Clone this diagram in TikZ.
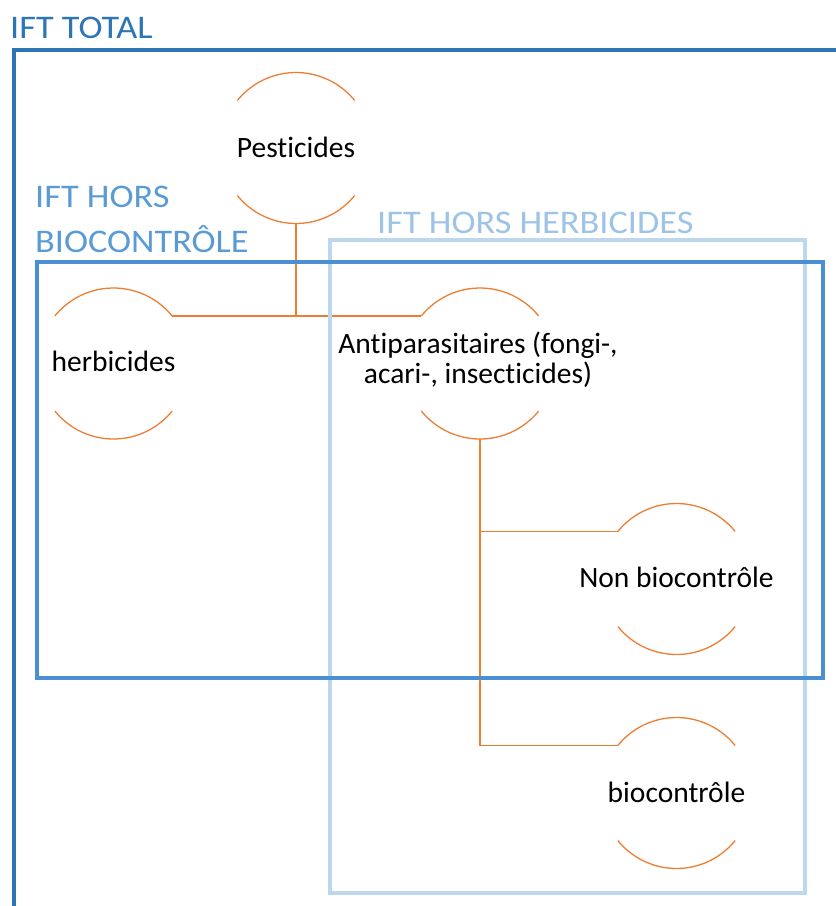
\documentclass[tikz,border=0pt]{standalone}
\usepackage{fontspec}
\setmainfont[Ligatures=NoCommon]{Carlito}
\newfontfamily\lightfont[FakeStretch=1.1,Ligatures=NoCommon]{Carlito}
\definecolor{totalblue}{HTML}{2E75B6}
\definecolor{midblue}{HTML}{4A8FD1}
\definecolor{midtext}{HTML}{5B9BD5}
\definecolor{lightbox}{HTML}{BDD7EE}
\definecolor{lighttext}{HTML}{9DC3E6}
\definecolor{arcorange}{HTML}{ED7D31}
\tikzset{
  ring/.style={circle, minimum size=151pt, inner sep=0pt, outer sep=0pt},
  lbl/.style={font=\fontsize{29.5}{30}\selectfont, text=black, align=center, inner sep=0pt},
  arcline/.style={draw=arcorange, line width=1.3pt},
  conn/.style={draw=arcorange, line width=1.3pt},
  grp/.style={font=\lightfont\fontsize{33}{45}\selectfont, anchor=base west, inner sep=0pt, align=left},
}
\begin{document}
\begin{tikzpicture}[x=1pt,y=1pt]
\useasboundingbox (0,0) rectangle (836,-906);
\clip (0,0) rectangle (836,-906);

% circles (invisible nodes)
\node[ring] (pest) at (296,-148) {};
\node[ring] (herb) at (113.5,-363.5) {};
\node[ring] (anti) at (480,-363.5) {};
\node[ring] (nonbio) at (676.5,-579) {};
\node[ring] (bio) at (676.5,-793) {};

% arcs
\foreach \n in {pest,herb,anti,nonbio,bio}{
  \draw[arcline] (\n.39) arc[start angle=39, end angle=141, radius=75.5];
  \draw[arcline] (\n.219) arc[start angle=219, end angle=321, radius=75.5];
}

% texts
\node[lbl] (pestT) at ([yshift=1pt]pest.center) {Pesticides};
\node[lbl] (herbT) at ([yshift=2pt]herb.center) {herbicides};
\node[lbl] (antiT) at ([xshift=-2pt,yshift=4pt]anti.center) {Antiparasitaires (fongi-,\\acari-, insecticides)};
\node[lbl] (nonbioT) at ([yshift=2pt]nonbio.center) {Non biocontrôle};
\node[lbl] (bioT) at ([yshift=1pt]bio.center) {biocontrôle};

% connectors
\draw[conn] (herb.39) -- (anti.141);
\draw[conn] (pest.south) -- (pest.south |- anti.141);
\draw[conn] (anti.south) -- (anti.south |- bio.141) -- (bio.141);
\draw[conn] (anti.south |- nonbio.141) -- (nonbio.141);

% group boxes
\coordinate (tl) at (14,-50);
\coordinate (tb) at (14,-960);
\coordinate (tr) at (900,-50);
\draw[totalblue, line width=4pt] (tb) -- (tl) -- (tr);
\draw[lightbox, line width=4pt] (330,-240) rectangle (805,-893);
\draw[midblue, line width=4pt] (37,-262) rectangle (823,-678);

% group labels
\node[grp, text=totalblue] (totalL) at (10,-38) {IFT TOTAL};
\node[grp, text=midtext] (bioL) at (35,-207) {IFT HORS};
\node[grp, text=midtext] (bioL2) at (35,-252) {BIOCONTRÔLE};
\node[grp, text=lighttext] (herbL) at (377,-233) {IFT HORS HERBICIDES};
\end{tikzpicture}
\end{document}
